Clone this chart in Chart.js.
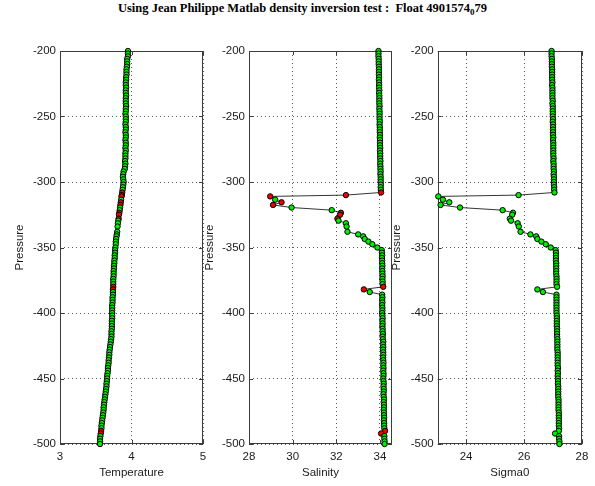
<!DOCTYPE html>
<html><head><meta charset="utf-8">
<script src="https://cdn.jsdelivr.net/npm/chart.js@4.4.0/dist/chart.umd.min.js"></script>
<style>
html,body{margin:0;padding:0;background:#fff;overflow:hidden;width:595px;height:486px;}
#wrap{position:relative;width:595px;height:486px;overflow:hidden;background:#fff;}
canvas{position:absolute;top:0;}
#title{position:absolute;left:0;top:1px;width:595px;text-align:center;font-family:"Liberation Serif";font-weight:bold;font-size:12.5px;line-height:14px;white-space:nowrap;color:#000;}
#title span{position:relative;left:5px;}
#title sub{font-size:9px;vertical-align:-3px;line-height:0;}
</style>
</head><body>
<div id="wrap">
<div id="title"><span>Using Jean Philippe Matlab density inversion test :&nbsp; Float 4901574<sub>0</sub>79</span></div>
<canvas id="c1"></canvas><canvas id="c2"></canvas><canvas id="c3"></canvas>
</div>
<script>
const pressure = [
-200,-202,-204,-206,-208,-210,-212,-214,-216,-218,
-220,-222,-224,-226,-228,-230,-232,-234,-236,-238,
-240,-242,-244,-246,-248,-250,-252,-254,-256,-258,
-260,-262,-264,-266,-268,-270,-272,-274,-276,-278,
-280,-282,-284,-286,-288,-290,-292,-294,-296,-298,
-300,-302,-304,-306,
-308,-310,-311,-313.5,-315.5,-317.5,-319.5,-321.5,-323.5,-325,-328,-329.5,-331.5,-334,-338,-340,-341.5,-343.5,-345.5,-347.5,-350,-352,
-354,-356,-358,-360,-362,-364,-366,-368,-370,-372,
-374,-376,-378,-380,-382,-384,-386,-388,-390,-392,
-394,-396,-398,-400,-402,-404,-406,-408,-410,-412,
-414,-416,-418,-420,-422,-424,-426,-428,-430,-432,
-434,-436,-438,-440,-442,-444,-446,-448,-450,-452,
-454,-456,-458,-460,-462,-464,-466,-468,-470,-472,
-474,-476,-478,-480,-482,-484,-486,-488,-490,-492,
-494,-496,-498,-500];
const temperature = [
3.95,3.95,3.95,3.94,3.94,3.94,3.935,3.93,3.93,3.93,
3.925,3.925,3.92,3.92,3.925,3.92,3.92,3.925,3.92,3.92,
3.92,3.925,3.92,3.92,3.915,3.92,3.92,3.92,3.915,3.92,
3.92,3.915,3.92,3.92,3.915,3.92,3.92,3.915,3.92,3.915,
3.915,3.915,3.91,3.915,3.91,3.905,3.89,3.885,3.88,3.885,
3.89,3.885,3.88,3.875,
3.87,3.865,3.86,3.855,3.85,3.845,3.84,3.835,3.83,3.825,3.82,3.815,3.81,3.805,3.80,3.795,3.79,3.785,3.78,3.78,3.775,3.77,
3.77,3.765,3.765,3.76,3.76,3.755,3.755,3.75,3.75,3.75,
3.745,3.745,3.745,3.745,3.74,3.74,3.74,3.735,3.735,3.735,
3.73,3.73,3.73,3.73,3.73,3.73,3.725,3.725,3.725,3.725,
3.72,3.72,3.72,3.715,3.71,3.705,3.70,3.695,3.69,3.69,
3.685,3.68,3.68,3.675,3.67,3.67,3.665,3.66,3.66,3.655,
3.65,3.65,3.645,3.64,3.635,3.63,3.625,3.62,3.615,3.61,
3.61,3.605,3.60,3.595,3.59,3.585,3.58,3.58,3.575,3.57,
3.565,3.56,3.56,3.56];
const salinity = [
33.93,33.93,33.93,33.94,33.94,33.94,33.95,33.95,33.95,33.95,
33.96,33.95,33.96,33.96,33.96,33.97,33.96,33.97,33.97,33.97,
33.97,33.98,33.97,33.98,33.98,33.98,33.98,33.99,33.98,33.99,
33.99,33.99,34.00,33.99,34.00,34.00,34.00,34.01,34.00,34.01,
34.01,34.01,34.02,34.01,34.02,34.02,34.03,34.02,34.03,34.03,
34.03,34.04,34.03,34.04,
34.05,32.44,28.97,29.2,29.49,29.1,29.95,31.79,32.21,32.17,32.05,32.1,32.44,32.47,32.51,33.0,33.23,33.3,33.47,33.65,33.88,34.08,
34.09,34.1,34.09,34.1,34.1,34.11,34.1,34.11,34.11,34.12,
34.11,34.12,34.12,34.15,33.26,33.53,34.1,34.11,34.1,34.11,
34.1,34.11,34.11,34.1,34.11,34.12,34.11,34.12,34.11,34.12,
34.12,34.13,34.12,34.13,34.15,34.14,34.15,34.14,34.15,34.15,
34.14,34.15,34.16,34.15,34.16,34.15,34.16,34.16,34.15,34.16,
34.17,34.16,34.17,34.17,34.16,34.17,34.18,34.17,34.18,34.18,
34.17,34.18,34.18,34.19,34.18,34.19,34.19,34.2,34.23,34.05,
34.2,34.2,34.21,34.21];
const sigma0 = [
26.95,26.95,26.95,26.96,26.96,26.96,26.96,26.97,26.97,26.97,
26.97,26.97,26.98,26.97,26.98,26.98,26.98,26.98,26.98,26.99,
26.98,26.99,26.99,26.99,26.99,26.99,27.0,26.99,27.0,27.0,
27.0,27.0,27.0,27.01,27.0,27.01,27.01,27.01,27.01,27.01,
27.01,27.02,27.01,27.02,27.02,27.02,27.03,27.02,27.03,27.03,
27.03,27.03,27.04,27.04,
27.05,25.81,23.04,23.2,23.42,23.12,23.79,25.26,25.62,25.59,25.51,25.55,25.78,25.82,25.88,26.22,26.42,26.46,26.6,26.75,26.92,27.09,
27.1,27.1,27.1,27.1,27.11,27.11,27.11,27.11,27.11,27.12,
27.12,27.12,27.12,27.14,26.46,26.65,27.12,27.12,27.12,27.12,
27.12,27.12,27.12,27.12,27.13,27.13,27.13,27.13,27.13,27.14,
27.14,27.14,27.14,27.15,27.15,27.15,27.15,27.15,27.16,27.16,
27.16,27.16,27.16,27.16,27.17,27.16,27.17,27.16,27.17,27.17,
27.17,27.18,27.18,27.18,27.18,27.18,27.19,27.19,27.19,27.19,
27.19,27.2,27.2,27.2,27.2,27.2,27.2,27.21,27.2,27.07,
27.21,27.21,27.22,27.22];
const badTemp = [-308,-310,-311,-315.5,-317.5,-323.5,-325,-328,-380,-382,-490,-492];
const badSal  = [-308,-310,-311,-315.5,-317.5,-323.5,-325,-328,-380,-382,-490,-492];
const badSigma = [];
const pressureTicks = [-500,-450,-400,-350,-300,-250,-200];
const tempTicks = [3,4,5];
const salTicks = [28,30,32,34];
const sigmaTicks = [24,26,28];

const GREEN = '#00ee00', RED = '#f00000';
const FONT = {family:'"Liberation Sans", Arial, sans-serif', size:11.5};
const TXT = '#1a1a1a';
const GRID = 'rgba(0,0,0,0.65)';
const framePlugin = {
  id:'frame',
  beforeDatasetsDraw(chart){
    const {ctx, chartArea:a, scales:{x,y}} = chart;
    ctx.save();
    ctx.strokeStyle = '#3c3c3c'; ctx.lineWidth = 1;
    ctx.strokeRect(Math.round(a.left)+0.5, Math.round(a.top)+0.5, Math.round(a.right-a.left)-1, Math.round(a.bottom-a.top)-1);
    const L = 4;
    ctx.beginPath();
    x.ticks.forEach(t=>{const p=Math.round(x.getPixelForValue(t.value))+0.5;
      ctx.moveTo(p,a.bottom); ctx.lineTo(p,a.bottom-L); ctx.moveTo(p,a.top); ctx.lineTo(p,a.top+L);});
    y.ticks.forEach(t=>{const p=Math.round(y.getPixelForValue(t.value))+0.5;
      ctx.moveTo(a.left,p); ctx.lineTo(a.left+L,p); ctx.moveTo(a.right,p); ctx.lineTo(a.right-L,p);});
    ctx.stroke();
    ctx.restore();
  }
};
function makePanel(id, left, width, xVals, bad, xMin, xMax, xTicks, xTitle, yAxisWidth, padRight, yTitlePad){
  const cv = document.getElementById(id);
  cv.width = width; cv.height = 486; cv.style.left = left+'px';
  cv.style.width = width+'px'; cv.style.height = '486px';
  const pts = pressure.map((p,i)=>({x:xVals[i], y:p}));
  const colors = pressure.map(p => bad.includes(p) ? RED : GREEN);
  return new Chart(cv, {
    type:'scatter',
    data:{datasets:[{data:pts, showLine:true, borderColor:'#000', borderWidth:0.8,
      pointRadius:2.7, pointBorderWidth:1, pointBorderColor:'#000', pointBackgroundColor:colors, clip:false}]},
    options:{
      responsive:false, animation:false, devicePixelRatio:1,
      layout:{padding:{top:51, right:padRight, left:0, bottom:0}},
      plugins:{legend:{display:false}, tooltip:{enabled:false}},
      scales:{
        x:{type:'linear', min:xMin, max:xMax,
          afterBuildTicks:s=>{s.ticks = xTicks.map(v=>({value:v}));},
          afterFit:s=>{s.height = 42;},
          grid:{color:GRID, drawTicks:false, lineWidth:1},
          border:{display:false, dash:[1,3]},
          ticks:{padding:5.5, font:FONT, color:TXT, autoSkip:false, maxRotation:0, callback:v=>String(v)},
          title:{display:true, text:xTitle, font:FONT, color:TXT, padding:{top:0,bottom:6}}},
        y:{type:'linear', min:-500, max:-200,
          afterBuildTicks:s=>{s.ticks = pressureTicks.map(v=>({value:v}));},
          afterFit:s=>{s.width = yAxisWidth;},
          grid:{color:GRID, drawTicks:false, lineWidth:1},
          border:{display:false, dash:[1,3]},
          ticks:{padding:4, font:FONT, color:TXT, autoSkip:false, callback:v=>String(v)},
          title:{display:true, text:'Pressure', font:FONT, color:TXT, padding:{top:yTitlePad,bottom:0}}}
      }
    },
    plugins:[framePlugin]
  });
}
makePanel('c1', 0, 212, temperature, badTemp, 3, 5, tempTicks, 'Temperature', 60, 9, 13);
makePanel('c2', 200, 197, salinity, badSal, 28, 34.55, salTicks, 'Salinity', 49, 5, 2.6);
makePanel('c3', 390, 205, sigma0, badSigma, 23.02, 28, sigmaTicks, 'Sigma0', 47.7, 13, 0.2);
</script>
</body></html>
